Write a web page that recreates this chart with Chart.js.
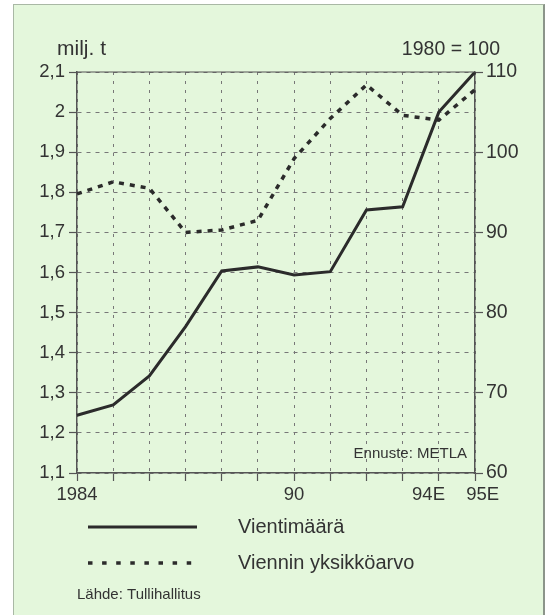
<!DOCTYPE html>
<html>
<head>
<meta charset="utf-8">
<script src="https://cdn.jsdelivr.net/npm/chart.js@4/dist/chart.umd.min.js"></script>
<style>
html,body{margin:0;padding:0;background:#fff;}
#frame{position:absolute;left:13px;top:4px;width:529px;height:640px;background:#e4f7dc;border:1px solid #a9b8a5;border-right:2px solid #8c958a;}
#wrap{position:absolute;left:0;top:0;width:550px;height:615px;}
</style>
</head>
<body>
<div id="frame"></div>
<div id="wrap"><canvas id="chart" width="550" height="615"></canvas></div>
<script>
// years on the x axis, only a few get a label
const years=[1984,1985,1986,1987,1988,1989,1990,1991,1992,1993,1994,1995]
const yearLabels=["1984","","","","","","90","","","","94E    ","   95E"]

// milj. t (left axis)
const vientimaara=[1.244,1.270,1.342,1.465,1.604,1.614,1.594,1.602,1.756,1.764,2.000,2.100]
// 1980 = 100 (right axis)
const yksikkoarvo=[94.8,96.3,95.5,90.0,90.3,91.5,99.2,104.2,108.4,104.6,104.0,107.8]

const leftUnit="milj. t"
const rightUnit="1980 = 100"
const forecastNote="Ennuste: METLA"
const sourceNote="Lähde: Tullihallitus"

const ink="#2b2b2b"
const txt="#333"
const fam="'Liberation Sans', Arial, Helvetica, sans-serif"
Chart.defaults.font.family=fam

const fmt=v=>String(Number(v.toFixed(1))).replace(".",",")

const extras={
  id:"extras",
  afterDraw(chart){
    const ctx=chart.ctx
    const a=chart.chartArea
    ctx.save()
    // top frame line
    ctx.strokeStyle="#555"
    ctx.lineWidth=1.2
    ctx.beginPath()
    ctx.moveTo(a.left,a.top)
    ctx.lineTo(a.right,a.top)
    ctx.stroke()

    ctx.fillStyle=txt
    ctx.textBaseline="alphabetic"
    ctx.font="21px "+fam
    ctx.textAlign="left"
    ctx.fillText(leftUnit,57,55)
    ctx.font="19.5px "+fam
    ctx.textAlign="right"
    ctx.fillText(rightUnit,500,55)

    ctx.font="15px "+fam
    ctx.fillText(forecastNote,a.right-8,a.bottom-15)

    // legend
    ctx.textAlign="left"
    ctx.textBaseline="middle"
    chart.data.datasets.forEach((ds,i)=>{
      const y=527+i*36
      ctx.strokeStyle=ds.borderColor
      ctx.lineWidth=ds.borderWidth
      ctx.setLineDash(ds.legendDash||[])
      ctx.beginPath()
      ctx.moveTo(88,y)
      ctx.lineTo(197,y)
      ctx.stroke()
      ctx.setLineDash([])
      ctx.font="20px "+fam
      ctx.fillStyle=txt
      ctx.fillText(ds.label,238,y)
    })
    ctx.font="15px "+fam
    ctx.fillText(sourceNote,77,595)
    ctx.restore()
  }
}

new Chart(document.getElementById("chart"),{
  type:"line",
  data:{
    labels:years,
    datasets:[{
      label:"Vientimäärä",
      data:vientimaara,
      yAxisID:"y",
      borderColor:ink,
      borderWidth:3,
      pointRadius:0,
      tension:0,
      legendDash:[]
    },{
      label:"Viennin yksikköarvo",
      data:yksikkoarvo,
      yAxisID:"y1",
      borderColor:ink,
      borderWidth:3.5,
      borderDash:[5,6],
      pointRadius:0,
      tension:0,
      legendDash:[4.5,9.6]
    }]
  },
  options:{
    responsive:false,
    animation:false,
    layout:{padding:{top:72,left:0,right:0,bottom:0}},
    plugins:{legend:{display:false},tooltip:{enabled:false}},
    scales:{
      x:{
        offset:false,
        grid:{color:"#777",lineWidth:1,tickLength:8,tickColor:"#555",tickWidth:1.2},
        border:{color:"#555",width:1.5,dash:[3,6]},
        ticks:{color:txt,font:{size:18.5},padding:3,autoSkip:false,maxRotation:0,
          callback:(v,i)=>yearLabels[i]},
        afterFit:s=>{s.height=142}
      },
      y:{
        position:"left",
        min:1.1,max:2.1,
        grid:{color:"#777",lineWidth:1,tickLength:8,tickColor:"#555",tickWidth:1.2},
        border:{color:"#555",width:1.5,dash:[4,5]},
        ticks:{stepSize:0.1,color:txt,font:{size:18.5},padding:4,callback:v=>fmt(v)},
        afterFit:s=>{s.width=77}
      },
      y1:{
        position:"right",
        min:60,max:110,
        grid:{drawOnChartArea:false,tickLength:8,tickColor:"#555",tickWidth:1.2},
        border:{color:"#555",width:1.5},
        ticks:{stepSize:10,color:txt,font:{size:19.5},padding:3},
        afterFit:s=>{s.width=75}
      }
    }
  },
  plugins:[extras]
})
</script>
</body>
</html>
